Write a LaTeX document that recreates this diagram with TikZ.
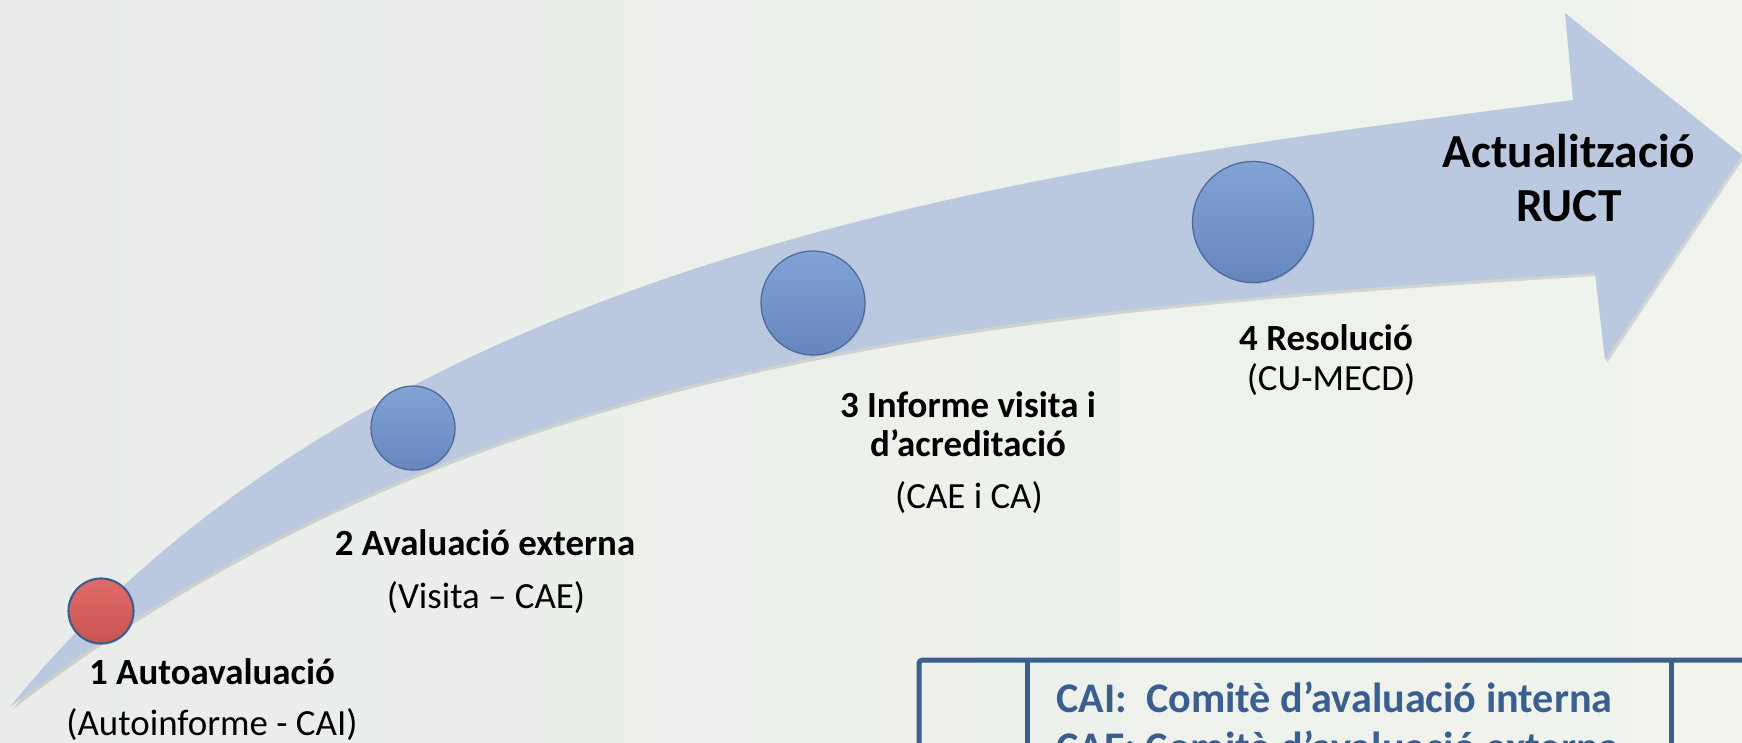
\documentclass[tikz,border=0pt]{standalone}
\usepackage{fontspec}
\setmainfont{Carlito}
\usetikzlibrary{shadows}

\definecolor{bgleft}{RGB}{233,236,233}
\definecolor{bgright}{RGB}{240,244,237}
\definecolor{bandfill}{RGB}{186,200,224}
\definecolor{balltop}{RGB}{130,163,214}
\definecolor{ballbot}{RGB}{102,134,190}
\definecolor{ballrim}{RGB}{78,104,152}
\definecolor{redtop}{RGB}{224,108,104}
\definecolor{redbot}{RGB}{200,84,82}
\definecolor{tblblue}{RGB}{58,94,143}

\tikzset{
  ball/.style={circle, draw=ballrim, line width=0.7pt, top color=balltop,
    bottom color=ballbot, minimum size=#1, inner sep=0pt,
    drop shadow={opacity=0.2, shadow xshift=0.6pt, shadow yshift=-0.8pt}},
  redball/.style={ball=#1, top color=redtop, bottom color=redbot,
    draw=tblblue, line width=1.2pt},
  steptitle/.style={font=\fontsize{21}{22}\selectfont\bfseries, align=center, inner sep=0pt},
  stepnote/.style={font=\fontsize{21}{22}\selectfont, inner sep=0pt},
  goaltext/.style={font=\fontsize{27}{31}\selectfont\bfseries, align=center, inner sep=0pt},
  legend/.style={font=\fontsize{24}{27}\selectfont\bfseries, text=tblblue, anchor=west, inner sep=0pt},
  tblline/.style={draw=tblblue, line width=0.1cm}
}

\def\bandpath{(10,707) .. controls (388,239) and (1076,165) .. (1573,100)
  -- (1565,13) -- (1742,155) -- (1605,360) -- (1595,273)
  .. controls (996,310) and (468,353) .. (10,707) -- cycle}

\begin{document}
\begin{tikzpicture}[x=0.02cm, y=-0.02cm]
\useasboundingbox (0,0) rectangle (1742,743);
\shade[left color=bgleft, right color=bgright] (0,0) rectangle (1742,743);
\clip (0,0) rectangle (1742,743);

% curved arrow
\fill[black, opacity=0.12, shift={(2,3)}] \bandpath;
\fill[bandfill] \bandpath;

% steps
\node[redball=1.3cm] (s1) at (101,611) {};
\node[ball=1.68cm] (s2) at (413,428) {};
\node[ball=2.08cm] (s3) at (813,303) {};
\node[ball=2.42cm] (s4) at (1253,222) {};

\node[steptitle] (t1) at (212,672) {1 Autoavaluació};
\node[stepnote] (n1) at (212,725) {(Autoinforme - CAI)};
\node[steptitle] (t2) at (485,543) {2 Avaluació externa};
\node[stepnote] (n2) at (486,598) {(Visita – CAE)};
\node[steptitle] (t3) at (968,424) {3 Informe visita i\\d’acreditació};
\node[stepnote] (n3) at (969,498) {(CAE i CA)};
\node[steptitle] (t4) at (1326,338) {4 Resolució};
\node[stepnote] (n4) at (1331,380) {(CU-MECD)};

\node[goaltext] (goal) at (1569,178) {Actualització\\RUCT};

% legend table
\coordinate (tbl) at (919,660);
\draw[tblline, rounded corners=2pt] (919,800) -- (tbl) -- (1800,660);
\draw[tblline] (1027,660) -- (1027,800) (1671,660) -- (1671,800);
\node[legend] (cai) at (1056,697) {CAI:\ \ Comitè d’avaluació interna};
\node[legend] (cae) at (1056,746) {CAE: Comitè d’avaluació externa};

\end{tikzpicture}
\end{document}
